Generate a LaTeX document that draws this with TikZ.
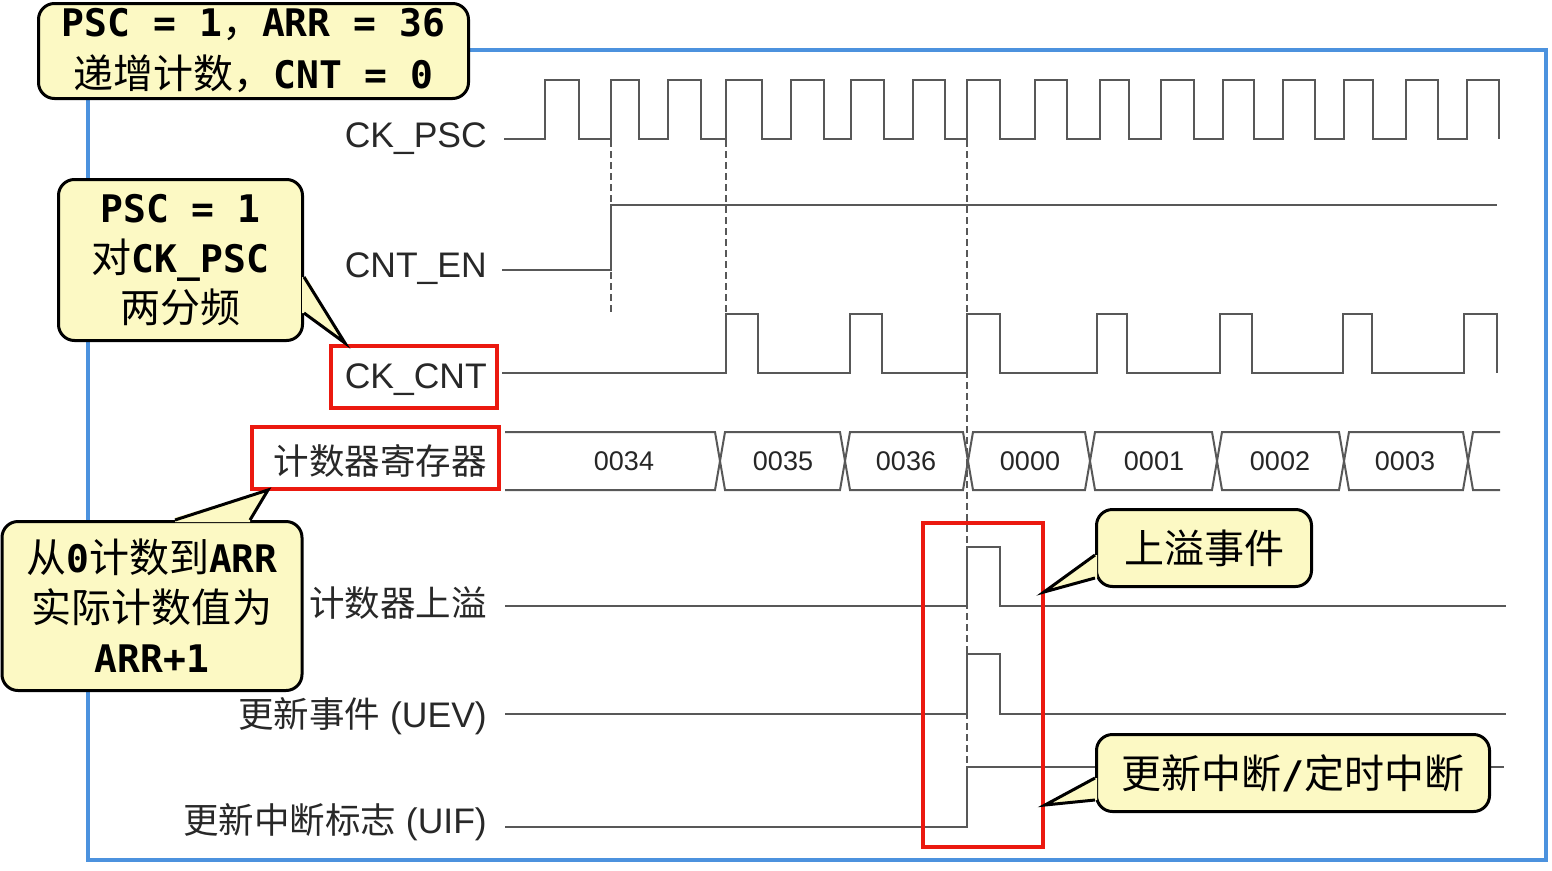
\documentclass[tikz,border=0pt]{standalone}
\usepackage{fontspec}
\setmainfont{Liberation Sans}
\newfontfamily\cjk{Noto Sans CJK SC}
\newfontfamily\monob{DejaVu Sans Mono}
\newcommand\czh[1]{{\cjk\fontsize{40}{50}\selectfont #1}}
\newcommand\cmb[1]{{\monob\bfseries\fontsize{38}{50}\selectfont #1}}
\definecolor{cfill}{RGB}{252,249,196}
\definecolor{frameblue}{RGB}{76,146,222}
\definecolor{wavegray}{RGB}{88,88,88}
\definecolor{labelgray}{RGB}{40,40,40}
\definecolor{hlred}{RGB}{235,25,15}
\begin{document}
\begin{tikzpicture}[x=1pt,y=-1pt,
  wave/.style={draw=wavegray, line width=2pt, line join=miter},
  vdash/.style={draw=wavegray, line width=1.3pt, dash pattern=on 7pt off 4pt},
  sig/.style={anchor=base east, inner sep=0pt, text=labelgray, font=\fontsize{35.5}{40}\selectfont},
  val/.style={inner sep=0pt, text=black!85, font=\fontsize{27}{30}\selectfont},
  callout/.style={draw=black, line width=3pt, fill=cfill, rounded corners=16pt, align=center, inner sep=0pt, font=\fontsize{38}{50}\selectfont},
  tailfill/.style={fill=cfill},
  tailline/.style={draw=black, line width=3pt, line join=miter},
  hl/.style={draw=hlred, line width=4pt}]
\useasboundingbox (0,0) rectangle (1552,870);
\fill[white] (0,0) rectangle (1552,870);
% frame
\draw[frameblue, line width=3.5pt] (88,50) rectangle (1546,860);
% dashed guide lines
\draw[vdash] (611,140) -- (611,313);
\draw[vdash] (726,140) -- (726,314);
\draw[vdash] (967,140) -- (967,768);
% CK_PSC
\draw[wave] (504,139) -| (545,80) -| (579,139) -| (611,80) -| (639,139) -| (668,80) -| (701,139)
  -| (726,80) -| (762,139) -| (791,80) -| (824,139) -| (851,80) -| (884,139) -| (913,80) -| (945,139)
  -| (967,80) -| (1000,139) -| (1035,80) -| (1067,139) -| (1100,80) -| (1129,139) -| (1161,80) -| (1194,139)
  -| (1223,80) -| (1254,139) -| (1283,80) -| (1315,139) -| (1344,80) -| (1373,139) -| (1406,80) -| (1438,139)
  -| (1467,80) -| (1499,139);
% CNT_EN
\draw[wave] (502,270) -| (611,205) -- (1497,205);
% CK_CNT
\draw[wave] (502,373) -| (726,314) -| (758,373) -| (850,314) -| (882,373) -| (967,314) -| (1000,373)
  -| (1097,314) -| (1127,373) -| (1220,314) -| (1252,373) -| (1343,314) -| (1372,373) -| (1464,314) -| (1497,373);
% counter register
\draw[wave] (505,432) -- (715,432) -- (725,490) -- (840,490) -- (850,432) -- (963,432) -- (973,490) -- (1085,490)
  -- (1095,432) -- (1212,432) -- (1222,490) -- (1339,490) -- (1349,432) -- (1463,432) -- (1473,490) -- (1500,490);
\draw[wave] (505,490) -- (715,490) -- (725,432) -- (840,432) -- (850,490) -- (963,490) -- (973,432) -- (1085,432)
  -- (1095,490) -- (1212,490) -- (1222,432) -- (1339,432) -- (1349,490) -- (1463,490) -- (1473,432) -- (1500,432);
\node[val] (v1) at (624,461) {0034};
\node[val] (v2) at (783,461) {0035};
\node[val] (v3) at (906,461) {0036};
\node[val] (v4) at (1030,461) {0000};
\node[val] (v5) at (1154,461) {0001};
\node[val] (v6) at (1280,461) {0002};
\node[val] (v7) at (1405,461) {0003};
% overflow, UEV, UIF
\draw[wave] (505,606) -| (967,547) -| (1000,606) -- (1506,606);
\draw[wave] (505,714) -| (967,654) -| (1000,714) -- (1506,714);
\draw[wave] (505,827) -| (967,767) -- (1504,767);
% labels
\node[sig] (lpsc) at (487,147) {CK\_PSC};
\node[sig] (len) at (487,277) {CNT\_EN};
\node[sig] (lcnt) at (487,388) {CK\_CNT};
\node[sig] (lreg) at (487,474) {\cjk 计数器寄存器};
\node[sig] (lov) at (487,616) {\cjk 计数器上溢};
\node[sig] (luev) at (487,727) {{\cjk 更新事件} (UEV)};
\node[sig] (luif) at (487,833) {{\cjk 更新中断标志} (UIF)};
% red highlight boxes
\draw[hl] (331,346) rectangle (497,408);
\draw[hl] (252,427) rectangle (499,489);
\draw[hl] (923,523) rectangle (1043,847);
% callouts
\node[callout, minimum width=430, minimum height=95] (c1) at (253.5,51)
  {\cmb{PSC = 1}\czh{，}\cmb{ARR = 36}\\[2pt]\czh{递增计数，}\cmb{CNT = 0}};
\node[callout, minimum width=244, minimum height=161] (c2) at (180.5,260)
  {\cmb{PSC = 1}\\\czh{对}\cmb{CK\_PSC}\\\czh{两分频}};
\node[callout, minimum width=300, minimum height=169] (c3) at (152,606)
  {\czh{从}\cmb{0}\czh{计数到}\cmb{ARR}\\\czh{实际计数值为}\\\cmb{ARR+1}};
\node[callout, minimum width=215, minimum height=77] (c4) at (1204,548) {\czh{上溢事件}};
\node[callout, minimum width=393, minimum height=77] (c5) at (1293,773) {\czh{更新中断}\cmb{/}\czh{定时中断}};
% callout tails
\coordinate (t2) at (345,343);
\coordinate (t3) at (268,490);
\coordinate (t4) at (1044,592);
\coordinate (t5) at (1045,805);
\fill[tailfill] (302,277) -- (306.5,277) -- (t2) -- (306.5,313) -- (302,313) -- cycle;
\draw[tailline] (304,277) -- (t2) -- (304,313);
\fill[tailfill] (175,522) -- (175,517.5) -- (t3) -- (250,517.5) -- (250,522) -- cycle;
\draw[tailline] (175,520) -- (t3) -- (250,520);
\fill[tailfill] (1097,555) -- (1093.5,555) -- (t4) -- (1093.5,578) -- (1097,578) -- cycle;
\draw[tailline] (1095,555) -- (t4) -- (1095,578);
\fill[tailfill] (1097,778) -- (1093.5,778) -- (t5) -- (1093.5,800) -- (1097,800) -- cycle;
\draw[tailline] (1095,778) -- (t5) -- (1095,800);
\end{tikzpicture}
\end{document}
